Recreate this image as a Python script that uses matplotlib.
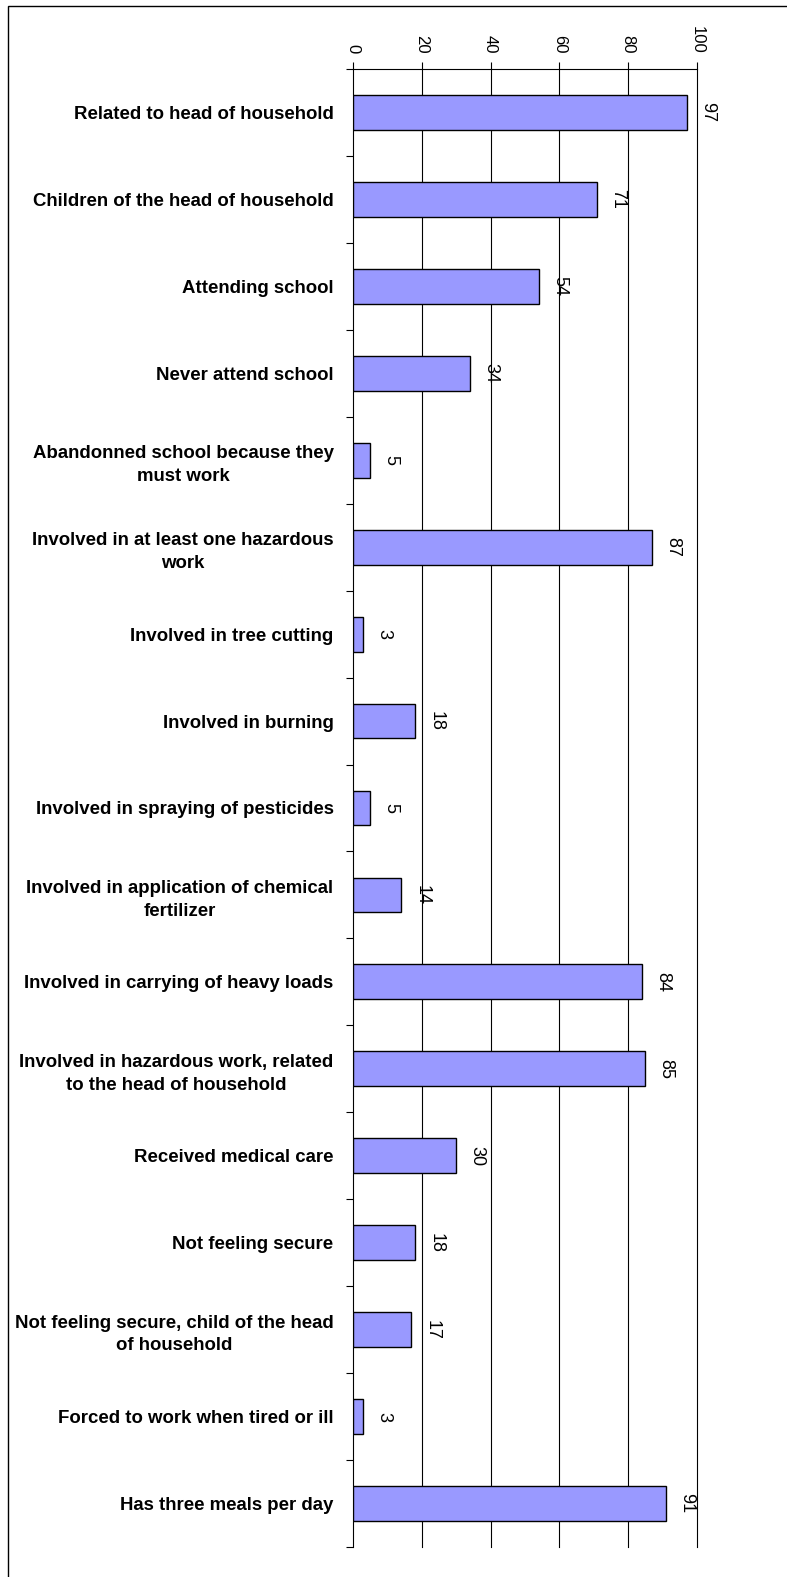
import numpy as np
import matplotlib
matplotlib.use("Agg")
import matplotlib.pyplot as plt
from matplotlib.patches import Rectangle

plt.rcParams['font.family'] = ['Liberation Sans', 'DejaVu Sans']

categories = [
    "Related to head of household",
    "Children of the head of household",
    "Attending school",
    "Never attend school",
    "Abandonned school because they\nmust work",
    "Involved in at least one hazardous\nwork",
    "Involved in tree cutting",
    "Involved in burning",
    "Involved in spraying of pesticides",
    "Involved in application of chemical\nfertilizer",
    "Involved in carrying of heavy loads",
    "Involved in hazardous work, related\nto the head of household",
    "Received medical care",
    "Not feeling secure",
    "Not feeling secure, child of the head\nof household",
    "Forced to work when tired or ill",
    "Has three meals per day",
]
values = [97, 71, 54, 34, 5, 87, 3, 18, 5, 14, 84, 85, 30, 18, 17, 3, 91]
x_ticks = [0, 20, 40, 60, 80, 100]

W, H = 787, 1577
fig = plt.figure(figsize=(W / 100, H / 100), dpi=100)
ax = fig.add_axes([353 / W, 1 - 1547 / H, (697 - 353) / W, (1547 - 69) / H])

y = np.arange(len(categories))
ax.barh(y, values, height=0.4, color='#9999FF', edgecolor='black',
        linewidth=1.0, zorder=3)

for yi, v in zip(y, values):
    ax.annotate(str(v), (v, yi), xytext=(15, 0), textcoords='offset points',
                rotation=-90, ha='center', va='center', fontsize=13)

ax.set_xlim(0, 100)
ax.set_ylim(len(categories) - 0.5, -0.5)

ax.xaxis.tick_top()
ax.set_xticks(x_ticks)
ax.set_xticklabels([str(t) for t in x_ticks], rotation=-90, fontsize=12)
ax.tick_params(axis='x', direction='out', length=5, width=0.8, pad=6)
for t in x_ticks[1:]:
    ax.axvline(t, color='black', linewidth=0.8, zorder=0, clip_on=False)

ax.set_yticks(y)
ax.set_yticklabels(categories, fontsize=13.4, fontweight='bold',
                   multialignment='center', linespacing=1.45)
ax.tick_params(axis='y', which='major', length=0, pad=14)
ax.set_yticks(np.arange(-0.5, len(categories)), minor=True)
ax.tick_params(axis='y', which='minor', length=5, width=0.8, direction='out')

ax.spines['right'].set_visible(False)
ax.spines['bottom'].set_visible(False)
ax.spines['left'].set_linewidth(0.8)
ax.spines['top'].set_linewidth(0.8)

# outer frame (only left and top edges visible in the crop)
fig.patches.append(Rectangle((8 / W, -0.5), 2, 1.5 - 6 / H, transform=fig.transFigure,
                             fill=False, edgecolor='black', linewidth=1.0))

fig.savefig('out.png', dpi=100)
